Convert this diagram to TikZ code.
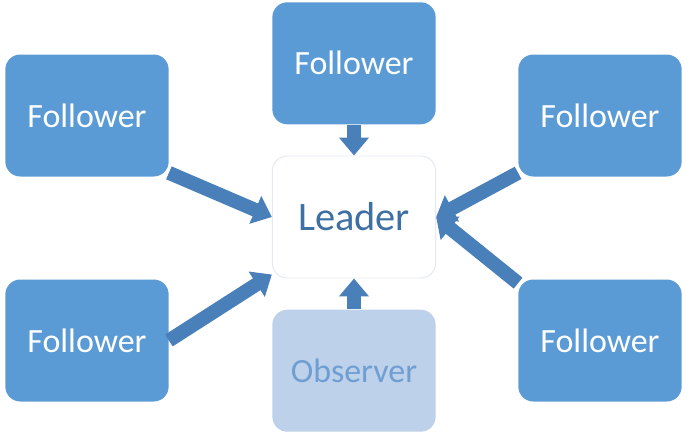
\documentclass[tikz,border=0pt]{standalone}
\usepackage{fontspec}
\setmainfont{Carlito}
\usepackage{xcolor}
\usepackage{tikz}
\usetikzlibrary{arrows.meta, positioning}

\definecolor{folblue}{HTML}{5B9BD5}
\definecolor{obsblue}{HTML}{BDD1EA}
\definecolor{obstext}{HTML}{6F9ED2}
\definecolor{leadtext}{HTML}{3F70A3}
\definecolor{leadedge}{HTML}{E4E9F0}
\definecolor{linkblue}{HTML}{4A80B9}

\begin{document}
\begin{tikzpicture}[
    x=0.03cm, y=-0.03cm,
    node distance=0.93cm,
    box/.style={rectangle, fill=#1, rounded corners=0.45cm, minimum width=4.9cm, minimum height=3.66cm, align=center},
    follower/.style={box=folblue, text=white, font=\fontsize{29}{34}\selectfont},
    link/.style={line width=0.42cm, draw=linkblue, -{Triangle[length=0.54cm, width=0.87cm]}},
]
    \useasboundingbox (0,0) rectangle (687,434);

    \node[box=white, draw=leadedge, line width=0.8pt, text=leadtext, font=\fontsize{34.5}{40}\selectfont] (leader) at (354,217) {Leader};

    \node[follower, above=of leader] (follow1) {Follower};
    \node[box=obsblue, text=obstext, font=\fontsize{29}{34}\selectfont, below=of leader] (observer) {Observer};

    \node[follower] (follow2) at (87,115.5) {Follower};
    \node[follower] (follow3) at (87,340.5) {Follower};
    \node[follower] (follow4) at (600,115.5) {Follower};
    \node[follower] (follow5) at (600,340.5) {Follower};

    \draw[link] (follow1) -- (leader);
    \draw[link] (observer) -- (leader);
    \draw[link] (follow2.-35) -- (leader.west);
    \draw[link] (follow3.east) -- (leader.215);
    \draw[link] (follow4.215) -- (leader.east);
    \draw[link] (follow5.145) -- (leader.east);

\end{tikzpicture}
\end{document}
